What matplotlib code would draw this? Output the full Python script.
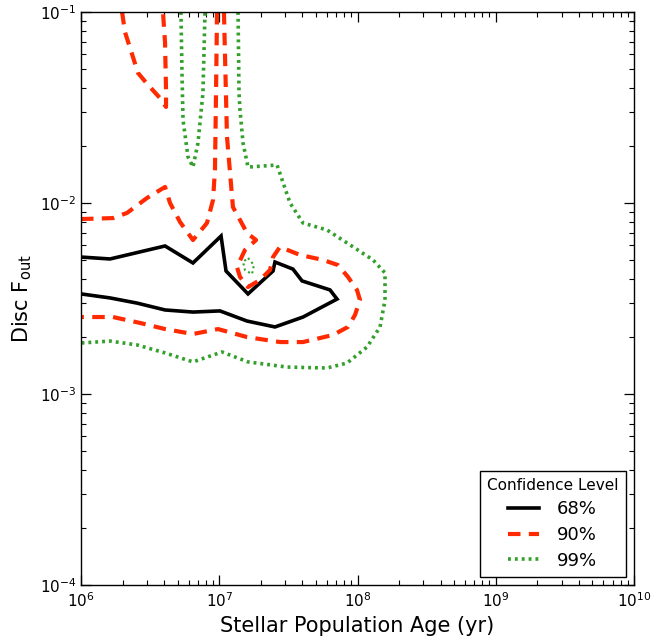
import numpy as np
import matplotlib
matplotlib.use("Agg")
import matplotlib.pyplot as plt
from matplotlib.lines import Line2D

# ---- data: contour vertices, log10(age / yr) and log10(F_out) ----
c68_logage = [6.000, 6.210, 6.608, 6.810, 7.013, 7.049, 7.208, 7.389, 7.403, 7.533,
              7.599, 7.801, 7.852, 7.606, 7.403, 7.201, 7.005, 6.810, 6.608, 6.405,
              6.210, 6.000]
c68_logf = [-2.283, -2.293, -2.225, -2.314, -2.173, -2.356, -2.476, -2.356, -2.309, -2.346,
            -2.408, -2.455, -2.503, -2.597, -2.649, -2.618, -2.565, -2.571, -2.560, -2.524,
            -2.497, -2.476]

c90a_logage = [6.297, 6.318, 6.376, 6.412, 6.485, 6.571, 6.615, 6.615, 6.608, 6.593]
c90a_logf = [-1.000, -1.105, -1.236, -1.319, -1.382, -1.450, -1.497, -1.408, -1.162, -1.000]

c90b_logage = [6.000, 6.231, 6.333, 6.477, 6.608, 6.644, 6.716, 6.810, 6.911, 6.955,
               6.969, 6.976, 6.984]
c90b_logf = [-2.084, -2.079, -2.052, -1.974, -1.916, -2.000, -2.099, -2.194, -2.105, -1.984,
             -1.827, -1.460, -1.000]

c90c_logage = [7.034, 7.056, 7.099, 7.201, 7.266, 7.186, 7.128, 7.150, 7.208, 7.295,
               7.367, 7.389, 7.439, 7.584, 7.750, 7.859, 7.931, 7.996, 8.018, 7.982,
               7.931, 7.823, 7.729, 7.606, 7.439, 7.201, 6.991, 6.810, 6.608, 6.427,
               6.231, 6.000]
c90c_logf = [-1.000, -1.654, -2.021, -2.157, -2.194, -2.246, -2.335, -2.387, -2.440, -2.403,
             -2.351, -2.283, -2.230, -2.272, -2.298, -2.325, -2.387, -2.455, -2.508, -2.586,
             -2.649, -2.691, -2.707, -2.728, -2.728, -2.702, -2.660, -2.686, -2.660, -2.628,
             -2.597, -2.597]

c99a_logage = [6.723, 6.731, 6.738, 6.774, 6.810, 6.846, 6.882, 6.897]
c99a_logf = [-1.000, -1.340, -1.565, -1.759, -1.812, -1.686, -1.424, -1.000]

c99b_logage = [7.136, 7.143, 7.150, 7.172, 7.208, 7.418, 7.512, 7.606, 7.779, 7.924,
               8.112, 8.199, 8.199, 8.163, 8.069, 7.924, 7.779, 7.490, 7.208, 7.020,
               6.810, 6.608, 6.405, 6.210, 6.000]
c99b_logf = [-1.000, -1.424, -1.513, -1.686, -1.812, -1.801, -2.000, -2.105, -2.141, -2.209,
             -2.298, -2.366, -2.508, -2.649, -2.754, -2.838, -2.864, -2.859, -2.832, -2.780,
             -2.832, -2.785, -2.743, -2.723, -2.733]

c99c_logage = [7.208, 7.251, 7.237, 7.186, 7.172, 7.208]
c99c_logf = [-2.288, -2.325, -2.372, -2.351, -2.309, -2.288]

levels = ["68%", "90%", "99%"]
legend_title = "Confidence Level"

# ---- styling ----
plt.rcParams["font.family"] = ["DejaVu Sans"]
plt.rcParams["mathtext.fontset"] = "dejavusans"

col68 = "black"
col90 = "#ff2a00"
col99 = "#33a02c"

fig = plt.figure(figsize=(6.56, 6.38), dpi=100)
ax = fig.add_axes([81 / 656, 53 / 638, 553 / 656, 573 / 638])


def draw(la, lf, **kw):
    ax.plot(10 ** np.asarray(la), 10 ** np.asarray(lf), **kw)


kw68 = dict(color=col68, lw=2.6, ls="-", solid_joinstyle="miter")
kw90 = dict(color=col90, lw=3.0, ls=(0, (3.0, 2.0)))
kw99 = dict(color=col99, lw=2.6, ls=(0, (0.8, 1.1)))

draw(c68_logage, c68_logf, **kw68)
draw(c90a_logage, c90a_logf, **kw90)
draw(c90b_logage, c90b_logf, **kw90)
draw(c90c_logage, c90c_logf, **kw90)
draw(c99a_logage, c99a_logf, **kw99)
draw(c99b_logage, c99b_logf, **kw99)
draw(c99c_logage, c99c_logf, lw=1.5, color=col99, ls=(0, (1, 1.5)))

ax.set_xscale("log")
ax.set_yscale("log")
ax.set_xlim(1e6, 1e10)
ax.set_ylim(1e-4, 1e-1)

ax.tick_params(which="both", direction="in", top=True, right=True, labelsize=11)
ax.tick_params(which="major", length=7, width=0.9)
ax.tick_params(which="minor", length=3.5, width=0.8)
ax.tick_params(axis="x", which="major", pad=4.5)
for s in ax.spines.values():
    s.set_linewidth(1.0)

ax.set_xlabel("Stellar Population Age (yr)", fontsize=15)
ax.set_ylabel(r"Disc F$_{\rm out}$", fontsize=15)

handles = [Line2D([], [], **kw68), Line2D([], [], **kw90), Line2D([], [], **kw99)]
leg = ax.legend(handles, levels, title=legend_title, loc="lower right",
                fontsize=13, title_fontsize=11, fancybox=False, framealpha=1,
                edgecolor="black", borderaxespad=0.45, handlelength=1.7,
                handletextpad=1.0, borderpad=0.4, labelspacing=0.42)
leg.get_frame().set_linewidth(1.0)

fig.savefig("out.png", dpi=100)
